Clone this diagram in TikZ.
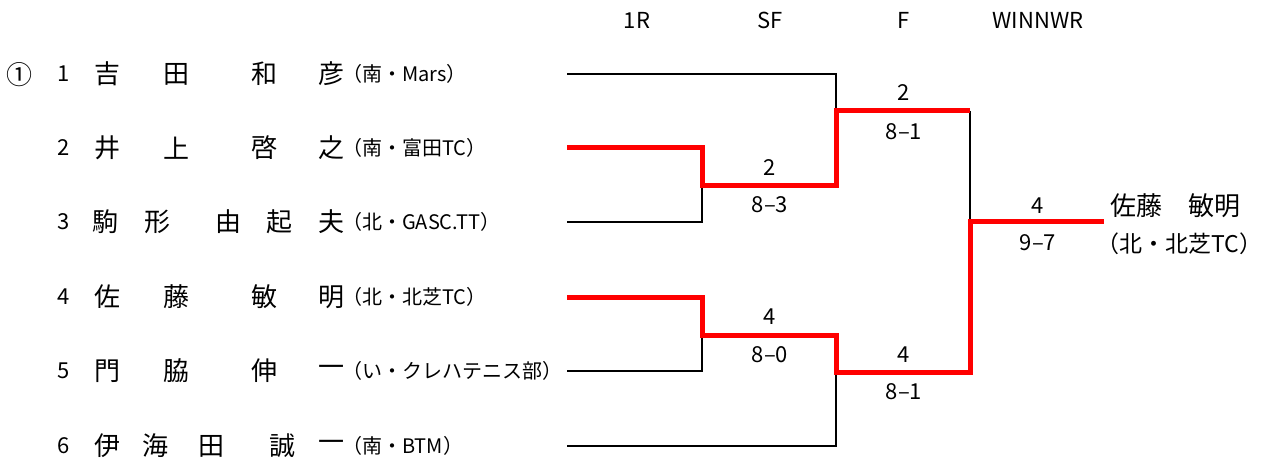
\documentclass[tikz,border=0pt]{standalone}
\usepackage{fontspec}
\setmainfont{Noto Sans CJK JP}
\usetikzlibrary{calc}

\begin{document}
\begin{tikzpicture}[x=1pt,y=-1pt,
    lose/.style={draw=black,line width=2pt},
    win/.style={draw=red,line width=5pt},
    head/.style={inner sep=0pt,font={\fontsize{22}{22}\selectfont}},
    score/.style={inner sep=0pt,font={\fontsize{22}{22}\selectfont}},
    seed/.style={inner sep=0pt,font={\fontsize{22}{22}\selectfont}},
    kanji/.style={inner sep=0pt,font={\fontsize{26}{26}\selectfont}},
    club/.style={anchor=west,inner sep=0pt,font={\fontsize{20}{20}\selectfont}},
    wclub/.style={anchor=west,inner sep=0pt,font={\fontsize{23}{23}\selectfont}}]
    \useasboundingbox (0,0) rectangle (1279,462);

    % round headers
    \node[head] (r1) at (637,20) {1R};
    \node[head] (sf) at (770,20) {SF};
    \node[head] (fi) at (904,20) {F};
    \node[head] (wr) at (1038,20) {WINNWR};

    % players
    \node[kanji] (mark) at (19,75) {①};
    \foreach \r/\y/\club/\chars in {
        1/74/{（南・Mars）}/{吉/107,田/176,和/264,彦/331},
        2/148/{（南・富田TC）}/{井/107,上/176,啓/264,之/331},
        3/222/{（北・GASC.TT）}/{駒/105,形/157,由/228,起/279,夫/331},
        4/297/{（北・北芝TC）}/{佐/107,藤/176,敏/264,明/331},
        5/371/{（い・クレハテニス部）}/{門/107,脇/176,伸/264,一/331},
        6/446/{（南・BTM）}/{伊/107,海/155,田/211,誠/282,一/331}}
    {
        \node[seed] (no\r) at (64,\y) {\r};
        \foreach \c/\x [count=\i] in \chars
            \node[kanji] (nm\r-\i) at (\x,\y) {\c};
        \node[club] (cl\r) at (342,\y) {\club};
        \coordinate (a\r) at (567,\y);
    }

    % bracket points
    \coordinate (s1) at (702,186);
    \coordinate (s2) at (702,335);
    \coordinate (f1) at (836,111);
    \coordinate (f2) at (836,372);
    \coordinate (w1) at (970,111);
    \coordinate (ch) at (970,222);
    \coordinate (end) at (1104,222);

    \draw[lose] (a1) -| (f1);
    \draw[lose] (a3) -| (s1);
    \draw[lose] (a5) -| (s2);
    \draw[lose] (a6) -| (f2);
    \draw[lose] (w1) -- (ch);
    \draw[win] (a2) -| (s1) -| (f1) -- (w1);
    \draw[win] (a4) -| (s2) -| (f2) -| (ch) -- (end);

    % scores
    \node[score] (sfa) at (770,168) {2};
    \node[score] (sfas) at (770,205) {8–3};
    \node[score] (sfb) at (770,317) {4};
    \node[score] (sfbs) at (770,355) {8–0};
    \node[score] (fa) at (904,93) {2};
    \node[score] (fas) at (904,132) {8–1};
    \node[score] (fb) at (904,355) {4};
    \node[score] (fbs) at (904,392) {8–1};
    \node[score] (fw) at (1038,206) {4};
    \node[score] (fws) at (1038,243) {9–7};

    % winner
    \node[kanji,anchor=west] (wname) at (1110,206) {佐藤　敏明};
    \node[wclub] (wteam) at (1096,244) {（北・北芝TC）};
\end{tikzpicture}
\end{document}
